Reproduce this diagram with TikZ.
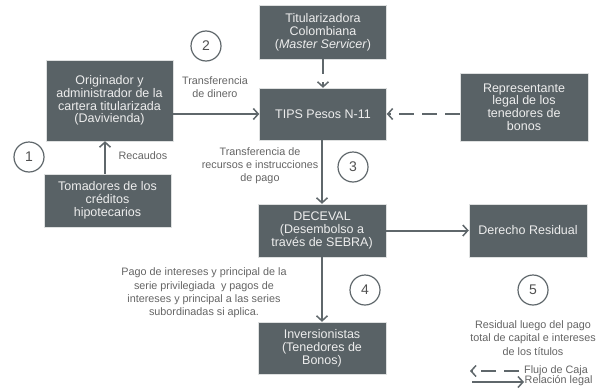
\documentclass[tikz,border=0pt]{standalone}
\usepackage{fontspec}
\setmainfont{Liberation Sans}
\usetikzlibrary{arrows.meta}
\definecolor{cajagris}{RGB}{89,98,102}
\definecolor{lineagris}{RGB}{95,103,107}
\definecolor{textogris}{RGB}{100,100,100}
\begin{document}
\begin{tikzpicture}[x=1pt, y=-1pt, line join=round, >={Straight Barb[length=5pt,width=11pt,line width=1.5pt]}]
	\tikzset{caja/.style={fill=cajagris, draw=white!80!cajagris, line width=0.4pt, text=white!93!black, align=center, inner sep=0pt, font=\fontsize{12.5}{12.8}\selectfont},
		nota/.style={text=textogris, align=center, font=\fontsize{10.8}{13.2}\selectfont},
		paso/.style={circle, draw=lineagris, line width=1.2pt, minimum size=30pt, inner sep=0pt, font=\fontsize{14}{14}\selectfont, text=textogris!80!black},
		flujo/.style={draw=lineagris, line width=2pt, ->},
		legal/.style={draw=lineagris, line width=2pt, dash pattern=on 15pt off 8pt, ->}}
	\useasboundingbox (0,0) rectangle (612,391);
	% cajas
	\node[caja, minimum width=127pt, minimum height=81pt] (orig) at (109.5,100.5) {Originador y\\administrador de la\\cartera titularizada\\(Davivienda)};
	\node[caja, minimum width=127pt, minimum height=54pt] (titul) at (323,32) {Titularizadora\\Colombiana\\(\textit{Master Servicer})};
	\node[caja, minimum width=127pt, minimum height=52pt] (tips) at (323,114) {TIPS Pesos N-11};
	\node[caja, minimum width=128pt, minimum height=68pt] (repr) at (524,107) {Representante\\legal de los\\tenedores de\\bonos};
	\node[caja, minimum width=127pt, minimum height=53pt] (toma) at (107.5,200.5) {Tomadores de los\\créditos\\hipotecarios};
	\node[caja, minimum width=128pt, minimum height=53pt] (dec) at (322,230.5) {DECEVAL\\(Desembolso a\\través de SEBRA)};
	\node[caja, minimum width=118pt, minimum height=53pt] (resid) at (528,230.5) {Derecho Residual};
	\node[caja, minimum width=128pt, minimum height=52pt] (inv) at (322,348) {Inversionistas\\(Tenedores de\\Bonos)};
	% pasos
	\node[paso] (p1) at (29,157) {1};
	\node[paso] (p2) at (206,46) {2};
	\node[paso] (p3) at (353,167) {3};
	\node[paso] (p4) at (365,290) {4};
	\node[paso] (p5) at (533,290) {5};
	% notas
	\node[nota] (n1) at (215,87) {Transferencia\\de dinero};
	\node[nota] (n2) at (143,156) {Recaudos};
	\node[nota] (n3) at (260,166) {Transferencia de\\recursos e instrucciones\\de pago};
	\node[nota] (n4) at (204,293) {Pago de intereses y principal de la\\serie privilegiada \ y pagos de\\intereses y principal a las series\\subordinadas si aplica.};
	\node[nota] (n5) at (533,338) {Residual luego del pago\\total de capital e intereses\\de los títulos};
	% conectores
	\draw[flujo] (orig.east |- tips) -- (tips.west);
	\draw[flujo] (toma.north -| 105,0) -- (orig.south -| 105,0);
	\draw[legal] (titul.south) -- (tips.north);
	\draw[legal] (repr.west |- tips) -- (tips.east);
	\draw[flujo] (tips.south -| dec) -- (dec.north);
	\draw[flujo] (dec) -- (resid);
	\draw[flujo] (dec.south) -- (inv.north);
	% leyenda
	\coordinate (la) at (519,371);
	\coordinate (lb) at (470,371);
	\coordinate (lc) at (472,382);
	\coordinate (ld) at (524,382);
	\draw[legal] (la) -- (lb);
	\draw[flujo] (lc) -- (ld);
	\node[nota, anchor=west, inner sep=0pt] (ley1) at (524,371) {Flujo de Caja};
	\node[nota, anchor=west, inner sep=0pt] (ley2) at (524.5,381) {Relación legal};
\end{tikzpicture}
\end{document}
